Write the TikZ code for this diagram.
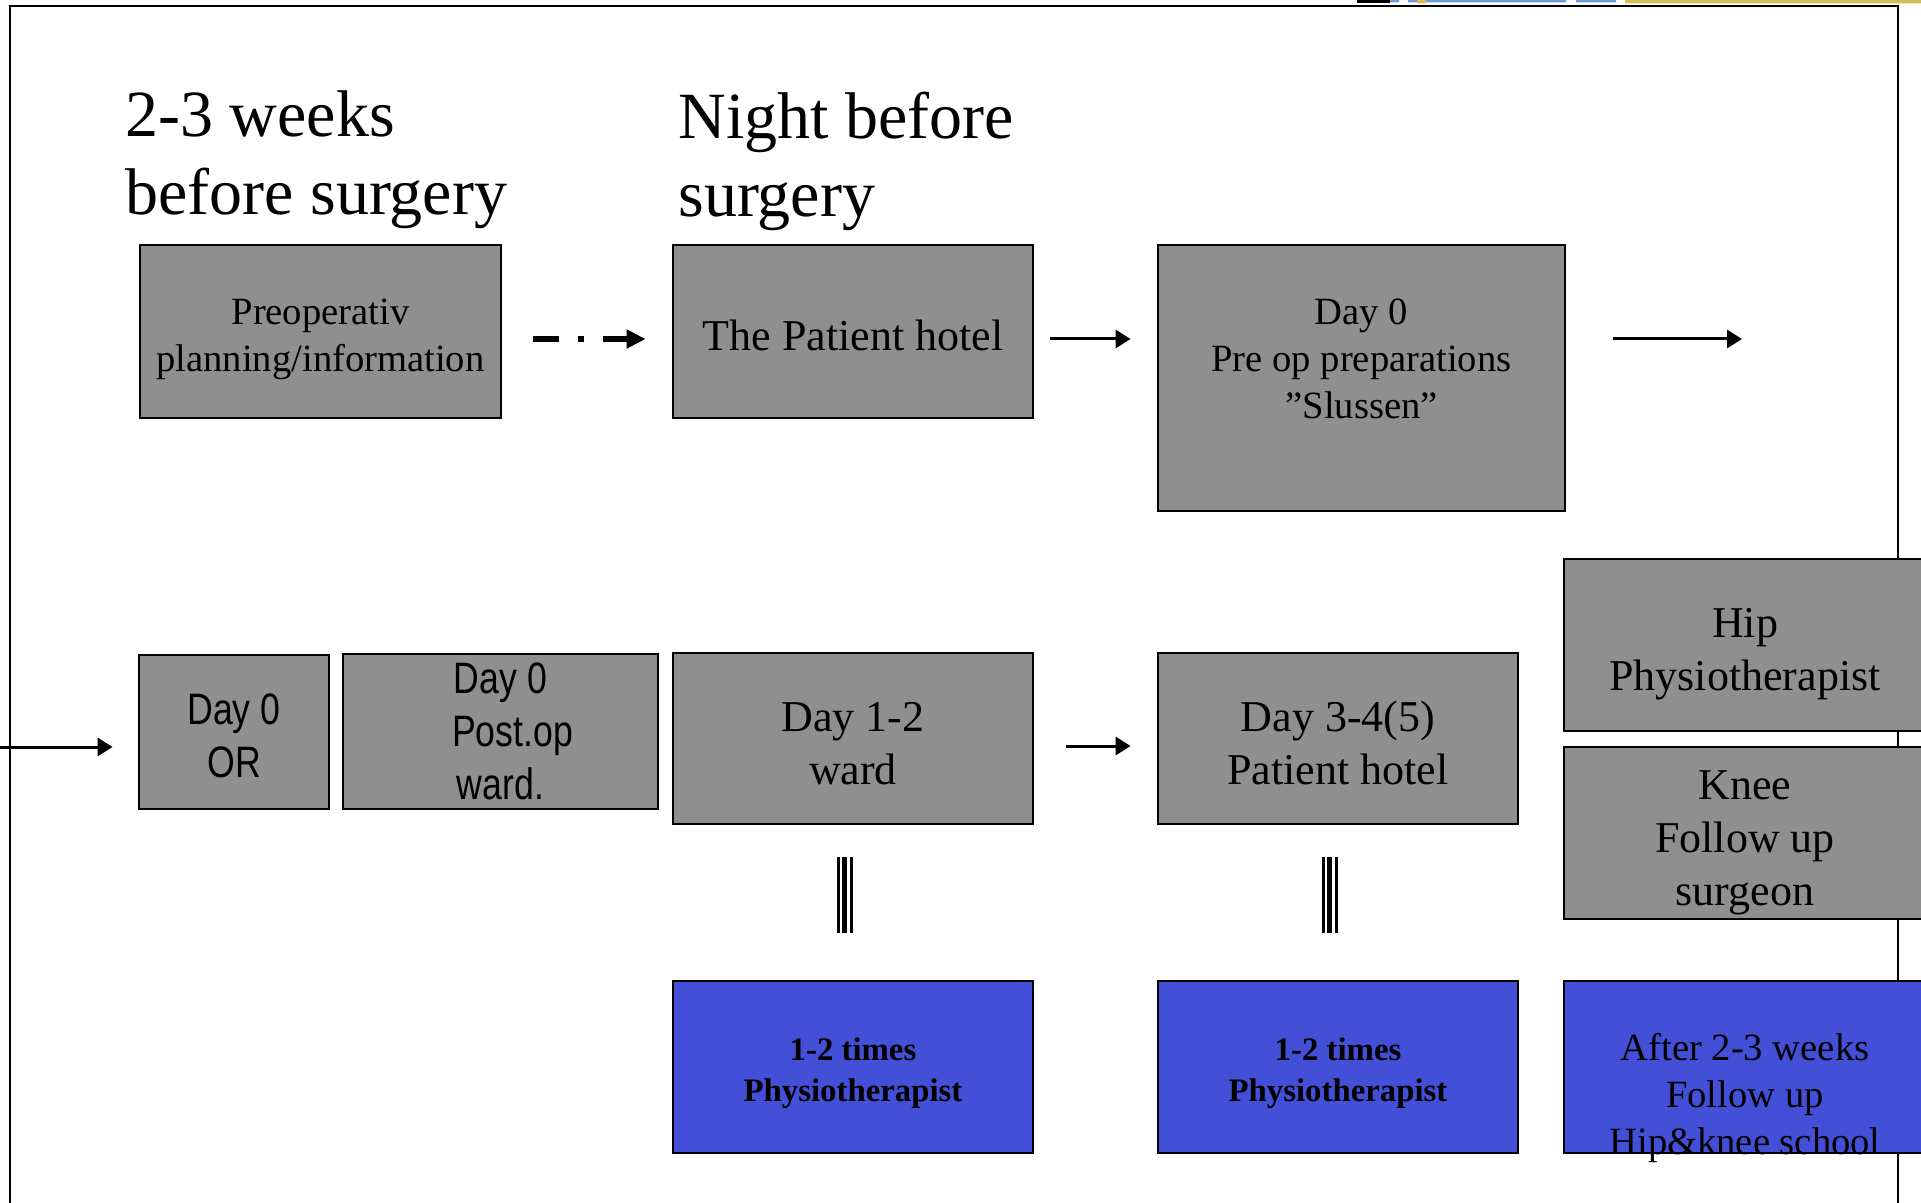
\documentclass[tikz,border=0pt]{standalone}
\usepackage{fontspec}
\setmainfont{Liberation Serif}
\newfontfamily\narrowsf[FakeStretch=0.81]{Liberation Sans}
\usetikzlibrary{arrows.meta}
\definecolor{boxgray}{RGB}{143,143,143}
\definecolor{boxblue}{RGB}{66,79,214}
\definecolor{stripblue}{RGB}{109,154,216}
\definecolor{stripgold}{RGB}{212,190,90}
\newcommand{\stagefont}{\fontsize{33pt}{39pt}\selectfont}
\newcommand{\smallserif}{\fontsize{19.3pt}{23.5pt}\selectfont}
\newcommand{\bigserif}{\fontsize{22pt}{26.5pt}\selectfont}
\newcommand{\boldserif}{\fontsize{16.4pt}{20.5pt}\selectfont\bfseries}
\newcommand{\narrowfont}{\narrowsf\fontsize{22pt}{26.5pt}\selectfont}
% extra room above the first line of a box text
\newcommand{\lift}{\rule{0pt}{1.1em}}
\begin{document}
\begin{tikzpicture}
			[x=0.5pt,y=-0.5pt,
			cell/.style={rectangle,draw,line width=1.4pt,fill=boxgray,inner sep=0pt,align=center},
			box/.style={cell,execute at end node={\rule[-0.22em]{0pt}{0pt}}},
			bluebox/.style={box,fill=boxblue},
			stage/.style={inner sep=0pt,anchor=north west,align=left,font=\stagefont},
			link/.style={->,line width=1.5pt},
			>={Triangle[length=7.5pt,width=9pt]}]
			\useasboundingbox (0,0) rectangle (1921,1203);
			\fill (1357,0) rectangle (1390,3);
			\fill[stripblue] (1390,0) rectangle (1399,2.5) (1408,0) rectangle (1417,2.5)
				(1426,0) rectangle (1566,2.5) (1576,0) rectangle (1616,2.5);
			\fill[stripgold] (1417,0) rectangle (1426,3.5) (1625,0) rectangle (1921,3.5);
			\draw[line width=1.25pt] (10,1215) -- (10,6) -- (1898,6) -- (1898,1215);
			\node[stage,name=weeks]at(125,90){2-3 weeks\\before surgery};
			\node[stage,name=night]at(678,92){Night before\\surgery};
			\node[box,name=pre,minimum width=180.5pt,minimum height=86.5pt,font=\smallserif]at(320.5,331.5){\lift Preoperativ\\planning/information};
			\node[box,name=hotel,minimum width=180pt,minimum height=86.5pt,font=\bigserif]at(853,331.5){\lift The Patient hotel};
			\node[box,name=day0,minimum width=203.5pt,minimum height=133pt,font=\smallserif]at(1361.5,378){\lift Day 0\\Pre op preparations\\”Slussen”\\\mbox{}};
			\node[box,name=or,minimum width=95pt,minimum height=77pt,font=\narrowfont]at(234,732){\lift Day 0\\OR};
			\node[cell,name=postop,minimum width=157.5pt,minimum height=77.5pt,font=\narrowfont]at(500.5,731.5){Day 0\\\hspace*{0.55em}Post.op\\ward.};
			\node[box,name=ward,minimum width=180pt,minimum height=85.5pt,font=\bigserif]at(853,738.5){\lift Day 1-2\\ward};
			\node[box,name=hotel2,minimum width=180pt,minimum height=85.5pt,font=\bigserif]at(1338,738.5){\lift Day 3-4(5)\\Patient hotel};
			\node[box,name=hip,minimum width=181pt,minimum height=86pt,font=\bigserif]at(1745,645){\lift Hip\\Physiotherapist};
			\node[box,name=knee,minimum width=181pt,minimum height=86pt,font=\bigserif]at(1745,833){\lift Knee\\Follow up\\surgeon};
			\node[bluebox,name=physA,minimum width=180pt,minimum height=86pt,font=\boldserif]at(853,1067){\lift 1-2 times\\Physiotherapist};
			\node[bluebox,name=physB,minimum width=180pt,minimum height=86pt,font=\boldserif]at(1338,1067){\lift 1-2 times\\Physiotherapist};
			\node[bluebox,name=after,minimum width=181pt,minimum height=86pt]at(1745,1067){};
			\node[inner sep=0pt,align=center,font=\smallserif,name=aftertxt]at(1745,1098){After 2-3 weeks\\Follow up\\Hip\&knee school};
			\coordinate (entry) at (0,747);
			\coordinate (exit) at (1742,339);
			\draw[->,line width=3pt,dash pattern=on 13pt off 9.5pt on 3pt off 9.5pt,>={Triangle[length=9.5pt,width=9pt]},
				shorten <=15.5pt,shorten >=13pt]([yshift=-3.75pt]pre.east) --([yshift=-3.75pt]hotel.west);
			\draw[link,shorten <=8pt,shorten >=13pt]([yshift=-3.75pt]hotel.east) --([yshift=-3.75pt]hotel.east -| day0.west);
			\draw[link,shorten <=23.5pt](exit -| day0.east) --(exit);
			\draw[link,shorten >=12.5pt](entry) --(entry -| or.west);
			\draw[link,shorten <=16pt,shorten >=13pt]([yshift=-3.75pt]ward.east) --([yshift=-3.75pt]hotel2.west);
			\draw[line width=1.35pt,shorten <=16pt,shorten >=23.5pt]([xshift=-7.35pt]ward.south) --([xshift=-7.35pt]physA.north);
			\draw[line width=2.5pt,shorten <=16pt,shorten >=23.5pt]([xshift=-4.25pt]ward.south) --([xshift=-4.25pt]physA.north);
			\draw[line width=1.5pt,shorten <=16pt,shorten >=23.5pt]([xshift=-0.75pt]ward.south) --([xshift=-0.75pt]physA.north);
			\draw[line width=1.35pt,shorten <=16pt,shorten >=23.5pt]([xshift=-7.35pt]hotel2.south) --([xshift=-7.35pt]physB.north);
			\draw[line width=2.5pt,shorten <=16pt,shorten >=23.5pt]([xshift=-4.25pt]hotel2.south) --([xshift=-4.25pt]physB.north);
			\draw[line width=1.5pt,shorten <=16pt,shorten >=23.5pt]([xshift=-0.75pt]hotel2.south) --([xshift=-0.75pt]physB.north);
		\end{tikzpicture}
\end{document}
